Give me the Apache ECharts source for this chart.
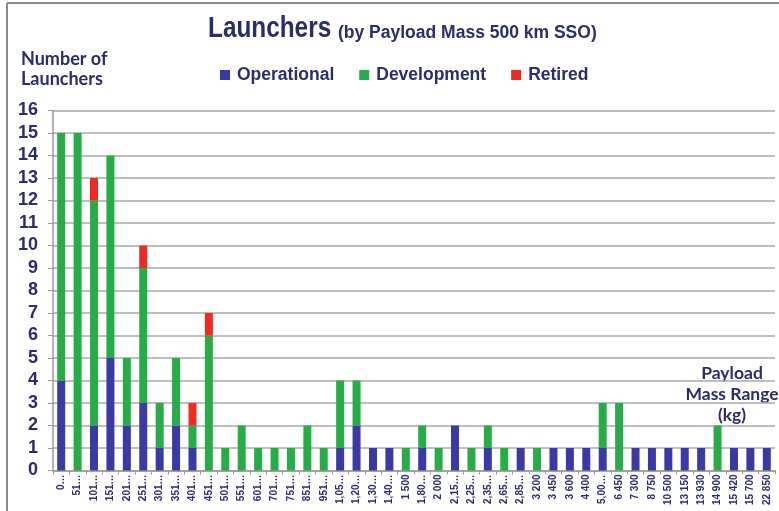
<!DOCTYPE html>
<html>
<head>
<meta charset="utf-8">
<script src="https://cdn.jsdelivr.net/npm/echarts@6/dist/echarts.min.js"></script>
<style>
html,body{margin:0;padding:0;background:#fff;}
#chart{width:779px;height:511px;}
</style>
</head>
<body>
<div id="chart"></div>
<script>
var categories = ["0…","51…","101…","151…","201…","251…","301…","351…","401…","451…",
  "501…","551…","601…","701…","751…","851…","951…","1,05…","1,20…","1,30…",
  "1,40…","1 500","1,80…","2 000","2,15…","2,25…","2,35…","2,65…","2,85…","3 200",
  "3 450","3 600","4 400","5,00…","6 450","7 300","8 750","10 500","13 150","13 930",
  "14 900","15 420","15 700","22 850"];
var operational = [4,0,2,5,2,3,1,2,1,0, 0,0,0,0,0,0,0,1,2,1, 1,0,1,0,2,0,1,0,1,0, 1,1,1,1,0,1,1,1,1,1, 0,1,1,1];
var development = [11,15,10,9,3,6,2,3,1,6, 1,2,1,1,1,2,1,3,2,0, 0,1,1,1,0,1,1,1,0,1, 0,0,0,2,3,0,0,0,0,0, 2,0,0,0];
var retired     = [0,0,1,0,0,1,0,0,1,1, 0,0,0,0,0,0,0,0,0,0, 0,0,0,0,0,0,0,0,0,0, 0,0,0,0,0,0,0,0,0,0, 0,0,0,0];
var yTicks = {min:0, max:16, interval:1};

var navy = '#2b2b6e';
var chart = echarts.init(document.getElementById('chart'));
chart.setOption({
  backgroundColor:'#ffffff',
  animation:false,
  legend:{
    left:215, top:61,
    itemWidth:10, itemHeight:10, itemGap:25,
    icon:'rect',
    textStyle:{fontFamily:'"Liberation Sans",Arial',fontWeight:'bold',fontSize:17.5,color:navy,padding:[0,0,0,2]},
    data:['Operational','Development','Retired']
  },
  grid:{left:53, right:4, top:110.5, bottom:40.5, containLabel:false},
  xAxis:{
    type:'category', data:categories,
    axisLine:{show:true,lineStyle:{color:'#9a9a9a',width:1.5}},
    axisTick:{show:true,length:4,lineStyle:{color:'#9a9a9a'}},
    axisLabel:{interval:0,rotate:90,margin:4,fontFamily:'"Liberation Sans",Arial',fontWeight:'bold',fontSize:10,color:navy}
  },
  yAxis:{
    type:'value', min:yTicks.min, max:yTicks.max, interval:yTicks.interval,
    axisLine:{show:true,lineStyle:{color:'#9a9a9a',width:1.5}},
    axisTick:{show:true,length:5,lineStyle:{color:'#9a9a9a'}},
    axisLabel:{margin:15,fontFamily:'"Liberation Sans",Arial',fontWeight:'bold',fontSize:18,color:navy},
    splitLine:{show:true,lineStyle:{color:'#a8a8a8',width:1.5}}
  },
  series:[
    {name:'Operational',type:'bar',stack:'t',data:operational,barWidth:8,itemStyle:{color:'#3a3aa4'}},
    {name:'Development',type:'bar',stack:'t',data:development,barWidth:8,itemStyle:{color:'#27ac48'}},
    {name:'Retired',type:'bar',stack:'t',data:retired,barWidth:8,itemStyle:{color:'#ee2a24'}}
  ],
  graphic:[
    {type:'line',shape:{x1:7,y1:3,x2:779,y2:3},style:{stroke:'#8a8a8a',lineWidth:2}},
    {type:'line',shape:{x1:7,y1:3,x2:7,y2:511},style:{stroke:'#8a8a8a',lineWidth:2}},
    {type:'text',x:208,y:29,scaleX:0.84,style:{text:'Launchers',verticalAlign:'middle',fontFamily:'"Liberation Sans",Arial',fontWeight:'bold',fontSize:29,fill:navy}},
    {type:'text',x:338,y:33,style:{text:'(by Payload Mass 500 km SSO)',verticalAlign:'middle',fontFamily:'"Liberation Sans",Arial',fontWeight:'bold',fontSize:17.5,fill:navy}},
    {type:'text',x:21,y:49,style:{text:'Number of\nLaunchers',fontFamily:'Lato,"Open Sans",sans-serif',fontWeight:'bold',fontSize:18,lineHeight:20,fill:navy}},
    {type:'text',x:732,y:363,style:{text:'Payload\nMass Range\n(kg)',align:'center',fontFamily:'Lato,"Open Sans",sans-serif',fontWeight:'bold',fontSize:17.5,lineHeight:21,fill:navy}}
  ]
});
</script>
</body>
</html>
